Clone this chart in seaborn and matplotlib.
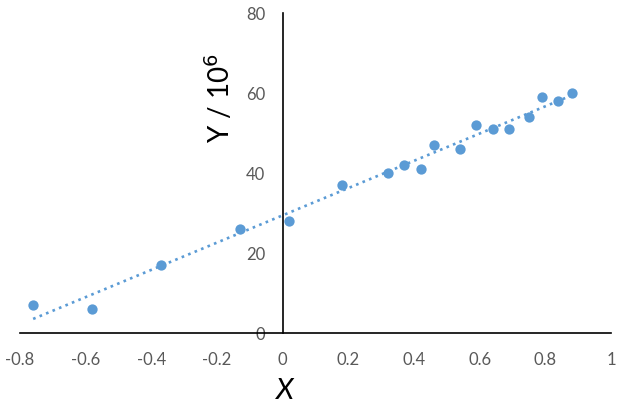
import matplotlib
matplotlib.use("Agg")
import matplotlib.pyplot as plt
import numpy as np
import pandas as pd
import seaborn as sns

# Values
x_vals = [-0.76, -0.58, -0.37, -0.13, 0.02, 0.18, 0.32, 0.37, 0.42, 0.46,
          0.54, 0.59, 0.64, 0.69, 0.75, 0.79, 0.84, 0.88]
y_vals = [7, 6, 17, 26, 28, 37, 40, 42, 41, 47,
          46, 52, 51, 51, 54, 59, 58, 60]
x_ticks = [-0.8, -0.6, -0.4, -0.2, 0, 0.2, 0.4, 0.6, 0.8, 1]
x_ticklabels = ["-0.8", "-0.6", "-0.4", "-0.2", "0", "0.2", "0.4", "0.6", "0.8", "1"]
y_ticks = [0, 20, 40, 60, 80]

df = pd.DataFrame({"x": x_vals, "y": y_vals})

sns.set_style("white")
plt.rcParams["font.family"] = ["Lato", "DejaVu Sans"]

blue = "#5B9BD5"
grey = "#595959"

fig = plt.figure(figsize=(6.22, 4.12), dpi=100)
ax = fig.add_axes([20 / 622, 1 - 333 / 412, 591 / 622, 320 / 412])

sns.regplot(data=df, x="x", y="y", ax=ax, ci=None, truncate=True,
            scatter_kws={"s": 55, "color": blue, "alpha": 1.0,
                         "linewidths": 0, "zorder": 3},
            line_kws={"color": blue, "ls": ":", "lw": 1.9, "zorder": 2})

ax.set_xlim(-0.8, 1)
ax.set_ylim(0, 80)
ax.set_xticks(x_ticks)
ax.set_xticklabels(x_ticklabels)
ax.set_yticks(y_ticks)

# Excel-style axes crossing at the origin
ax.spines["left"].set_position(("data", 0))
ax.spines["bottom"].set_position(("data", 0))
ax.spines["top"].set_visible(False)
ax.spines["right"].set_visible(False)
for side in ["left", "bottom"]:
    ax.spines[side].set_color("black")
    ax.spines[side].set_linewidth(1.2)

ax.tick_params(axis="both", direction="out", length=4.5, width=1.2,
               color="black", labelcolor=grey, labelsize=12)
ax.tick_params(axis="x", pad=9)
ax.tick_params(axis="y", pad=8)
ax.grid(False)

ax.set_xlabel("")
ax.set_ylabel("")
fig.text(285 / 622, 1 - 391 / 412, "X", fontsize=21, style="italic",
         ha="center", va="center", color="black")
fig.text(219 / 622, 1 - 98 / 412, r"Y / 10$^6$", fontsize=20, rotation=90,
         ha="center", va="center", color="black")

fig.savefig("out.png", dpi=100)
